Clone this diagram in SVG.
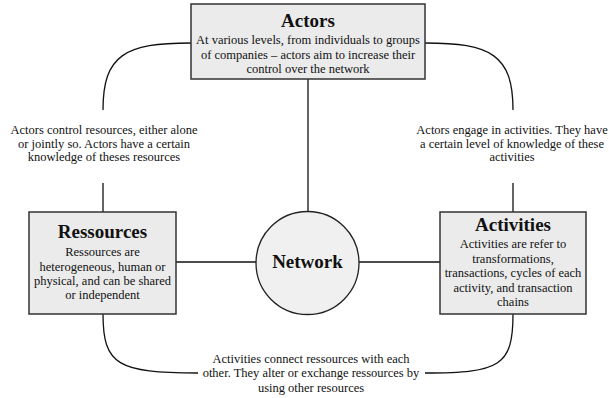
<svg xmlns="http://www.w3.org/2000/svg" width="609" height="398" viewBox="0 0 609 398" font-family="'Liberation Serif', 'Times New Roman', Times, serif">
<style>
.box{fill:#ebebeb;stroke:#333;stroke-width:1.5}
.circ{fill:#f0f0f0;stroke:#222;stroke-width:1.3}
.ln{fill:none;stroke:#111;stroke-width:1.3}
text{font-family:'Liberation Serif','Times New Roman',Times,serif;fill:#111;text-anchor:middle}
.t{font-size:19px;font-weight:bold}
.b{font-size:12.5px}
</style>
<rect width="609" height="398" fill="#fff"/>
<g id="connectors">
<path class="ln" d="M191,43 C125,43 103,55 103,110"/>
<path class="ln" d="M425,43 C491,43 513,55 513,110"/>
<path class="ln" d="M103,183 V212"/>
<path class="ln" d="M513,183 V212"/>
<path class="ln" d="M308,79 V212"/>
<path class="ln" d="M176,262 H256"/>
<path class="ln" d="M359,262 H440"/>
<path class="ln" d="M103,314 C103,365 118,373 198,373"/>
<path class="ln" d="M513,314 C513,366 500,373 425,373"/>
</g>
<g id="actors">
<rect class="box" x="191" y="4" width="234" height="75"/>
<text class="t" x="308" y="27">Actors</text>
<text class="b" x="308" y="44">At various levels, from individuals to groups</text>
<text class="b" x="308" y="58.5">of companies – actors aim to increase their</text>
<text class="b" x="308" y="73">control over the network</text>
</g>
<g id="ressources">
<rect class="box" x="29" y="212" width="147" height="102"/>
<text class="t" x="102.5" y="238">Ressources</text>
<text class="b" x="102.5" y="256">Ressources are</text>
<text class="b" x="102.5" y="270.5">heterogeneous, human or</text>
<text class="b" x="102.5" y="284.5">physical, and can be shared</text>
<text class="b" x="102.5" y="299">or independent</text>
</g>
<g id="activities">
<rect class="box" x="440" y="212" width="146" height="102"/>
<text class="t" x="513" y="231">Activities</text>
<text class="b" x="513" y="248">Activities are refer to</text>
<text class="b" x="513" y="262.5">transformations,</text>
<text class="b" x="513" y="277">transactions, cycles of each</text>
<text class="b" x="513" y="291.5">activity, and transaction</text>
<text class="b" x="513" y="306">chains</text>
</g>
<g id="network">
<circle class="circ" cx="307.5" cy="263" r="51.5"/>
<text class="t" x="307.5" y="268">Network</text>
</g>
<g id="label-actors-ressources">
<text class="b" x="104" y="134">Actors control resources, either alone</text>
<text class="b" x="104" y="147.5">or jointly so. Actors have a certain</text>
<text class="b" x="104" y="161">knowledge of theses resources</text>
</g>
<g id="label-actors-activities">
<text class="b" x="512" y="134">Actors engage in activities. They have</text>
<text class="b" x="512" y="147.5">a certain level of knowledge of these</text>
<text class="b" x="512" y="161">activities</text>
</g>
<g id="label-activities-ressources">
<text class="b" x="311" y="362.5">Activities connect ressources with each</text>
<text class="b" x="311" y="377">other. They alter or exchange ressources by</text>
<text class="b" x="311" y="391.5">using other resources</text>
</g>
</svg>
